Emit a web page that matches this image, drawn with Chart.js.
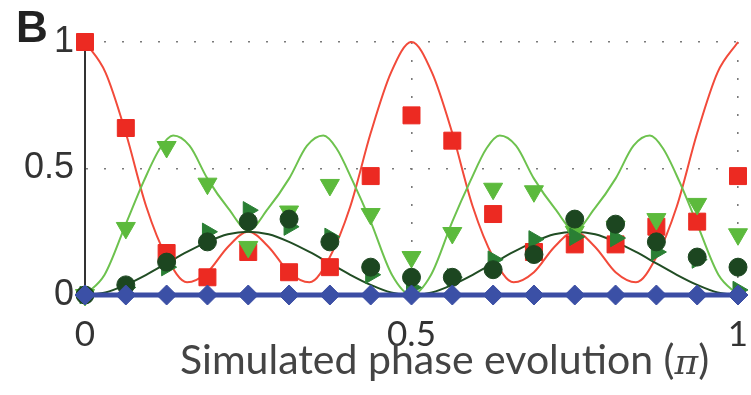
<!DOCTYPE html>
<html><head><meta charset="utf-8">
<style>
html,body{margin:0;padding:0;background:#fff;}
#wrap{position:relative;width:751px;height:395px;overflow:hidden;}
#panel{position:absolute;left:16px;top:2px;font:bold 44px "Liberation Sans",Arial,sans-serif;color:#222;line-height:50px;}
#xtitle{position:absolute;left:180px;top:334px;font:41px Lato,sans-serif;color:#444;line-height:49px;white-space:nowrap;}
#xtitle i{font-family:"DejaVu Serif",serif;font-size:36px;}
</style>
<script src="https://cdn.jsdelivr.net/npm/chart.js@4.4.0/dist/chart.umd.min.js"></script>
</head><body>
<div id="wrap"><canvas id="c" width="751" height="395" style="width:751px;height:395px"></canvas><div id="panel">B</div><div id="xtitle"></div></div>
<script>
// measured phases (x, units of pi)
const phases = [0, 0.0625, 0.125, 0.1875, 0.25, 0.3125, 0.375, 0.4375, 0.5, 0.5625, 0.625, 0.6875, 0.75, 0.8125, 0.875, 0.9375, 1];
// measured populations (markers)
const redSquares   = [1.00, 0.66, 0.166, 0.07, 0.17, 0.09, 0.11, 0.47, 0.71, 0.61, 0.32, 0.17, 0.20, 0.20, 0.27, 0.29, 0.47];
const lightGreenDown = [0.00, 0.265, 0.585, 0.44, 0.19, 0.33, 0.435, 0.32, 0.15, 0.245, 0.42, 0.41, 0.25, 0.27, 0.30, 0.36, 0.24];
const greenRight   = [0.00, 0.03, 0.11, 0.25, 0.335, 0.27, 0.23, 0.08, 0.03, 0.07, 0.14, 0.22, 0.23, 0.225, 0.17, 0.14, 0.02];
const darkCircles  = [0.00, 0.04, 0.13, 0.21, 0.29, 0.30, 0.21, 0.11, 0.07, 0.07, 0.10, 0.16, 0.30, 0.28, 0.21, 0.15, 0.11];
const blueStars    = [0, 0, 0, 0, 0, 0, 0, 0, 0, 0, 0, 0, 0, 0, 0, 0, 0];

// theory curves
const curveX = [0, 0.03125, 0.0625, 0.09375, 0.125, 0.15625, 0.1875, 0.21875, 0.25, 0.28125, 0.3125, 0.34375, 0.375, 0.40625, 0.4375, 0.46875, 0.5,
                0.53125, 0.5625, 0.59375, 0.625, 0.65625, 0.6875, 0.71875, 0.75, 0.78125, 0.8125, 0.84375, 0.875, 0.90625, 0.9375, 0.96875, 1];
const redCurve = [1.00, 0.88, 0.64, 0.35, 0.15, 0.05, 0.09, 0.19, 0.25, 0.19, 0.09, 0.05, 0.15, 0.35, 0.64, 0.88, 1.00,
                  0.88, 0.64, 0.35, 0.15, 0.05, 0.09, 0.19, 0.25, 0.19, 0.09, 0.05, 0.15, 0.35, 0.64, 0.88, 1.00];
const darkCurve = [0, 0.01, 0.04, 0.08, 0.125, 0.17, 0.21, 0.24, 0.25, 0.24, 0.21, 0.17, 0.125, 0.08, 0.04, 0.01, 0,
                   0.01, 0.04, 0.08, 0.125, 0.17, 0.21, 0.24, 0.25, 0.24, 0.21, 0.17, 0.125, 0.08, 0.04, 0.01, 0];
const greenCurveX = [0, 0.03, 0.0625, 0.09, 0.115, 0.135, 0.16, 0.1875, 0.22, 0.25, 0.28, 0.3125, 0.34, 0.365, 0.385, 0.41, 0.4375, 0.47, 0.5,
                     0.53, 0.5625, 0.59, 0.615, 0.635, 0.66, 0.6875, 0.72, 0.75, 0.78, 0.8125, 0.84, 0.865, 0.885, 0.91, 0.9375, 0.97, 1];
const greenCurve = [0, 0.08, 0.28, 0.45, 0.58, 0.63, 0.59, 0.46, 0.34, 0.255, 0.34, 0.46, 0.59, 0.63, 0.58, 0.45, 0.29, 0.08, 0,
                    0.08, 0.29, 0.45, 0.58, 0.63, 0.59, 0.46, 0.34, 0.255, 0.34, 0.46, 0.59, 0.63, 0.58, 0.45, 0.28, 0.08, 0];

const xTickValues = [0, 0.5, 1];
const xTickLabels = ['0', '0.5', '1'];
const yTickValues = [0, 0.5, 1];
const yTickLabels = ['0', '0.5', '1'];
const xTitleText = 'Simulated phase evolution (';
const xTitleSymbol = '\u03C0';

const tEl = document.getElementById('xtitle');
tEl.appendChild(document.createTextNode(xTitleText));
const iEl = document.createElement('i'); iEl.textContent = xTitleSymbol; tEl.appendChild(iEl);
tEl.appendChild(document.createTextNode(')'));

const pts = (xs, ys) => xs.map((x, i) => ({x: x, y: ys[i]}));

const curve = (xs, ys, color, order) => ({
  data: pts(xs, ys), showLine: true, borderColor: color, borderWidth: 2,
  pointRadius: 0, cubicInterpolationMode: 'monotone', order: order, clip: false
});
const marks = (ys, style, rot, r, color, order, border) => ({
  data: pts(phases, ys), showLine: false, pointStyle: style, rotation: rot, pointRadius: r,
  backgroundColor: color, borderColor: border || color, pointBorderWidth: 1, order: order, clip: false
});

new Chart(document.getElementById('c'), {
  type: 'scatter',
  data: { datasets: [
    curve(curveX, redCurve, '#f24a3a', 12),
    curve(greenCurveX, greenCurve, '#6dc24e', 11),
    curve(curveX, darkCurve, '#214d24', 10),
    marks(redSquares, 'rect', 0, 12, '#ec2a22', 6),
    marks(lightGreenDown, 'triangle', 180, 11, '#5cba3c', 5),
    marks(greenRight, 'triangle', 90, 10, '#2a7f34', 4),
    marks(darkCircles, 'circle', 0, 9, '#1c4620', 3),
    Object.assign(marks(blueStars, 'rectRot', 0, 10, '#3b50a6', 1, '#6cc6ee'),
      {showLine: true, borderWidth: 5, borderColor: '#3b4da4'})
  ]},
  options: {
    responsive: false, animation: false, devicePixelRatio: 1,
    layout: { padding: { left: 0, right: 13, top: 42, bottom: 0 } },
    plugins: { legend: { display: false }, tooltip: { enabled: false } },
    scales: {
      x: {
        type: 'linear', min: 0, max: 1,
        afterFit: s => { s.height = 100; s.paddingLeft = 0; s.paddingRight = 0; },
        afterBuildTicks: s => { s.ticks = xTickValues.map(v => ({value: v})); },
        ticks: { callback: (v) => xTickLabels[xTickValues.indexOf(v)], font: { family: 'Lato', size: 35 }, color: '#333', padding: 19, maxRotation: 0 },
        grid: { drawTicks: false, lineWidth: 1.6, color: c => (c.tick && c.tick.value === 0) ? 'rgba(0,0,0,0)' : '#7a7a7a' },
        border: { display: false, dash: [2, 16] }
      },
      y: {
        min: 0, max: 1,
        afterFit: s => { s.width = 85; s.paddingTop = 0; s.paddingBottom = 0; },
        afterBuildTicks: s => { s.ticks = yTickValues.map(v => ({value: v})); },
        ticks: { callback: (v) => yTickLabels[yTickValues.indexOf(v)], font: { family: 'Liberation Sans', size: 36 }, color: '#333', padding: 11 },
        grid: { drawTicks: false, lineWidth: 1.6, color: c => (c.tick && c.tick.value === 0) ? 'rgba(0,0,0,0)' : '#7a7a7a' },
        border: { display: true, color: '#333', width: 2, dash: [2, 16] }
      }
    }
  }
});
</script>
</body></html>
